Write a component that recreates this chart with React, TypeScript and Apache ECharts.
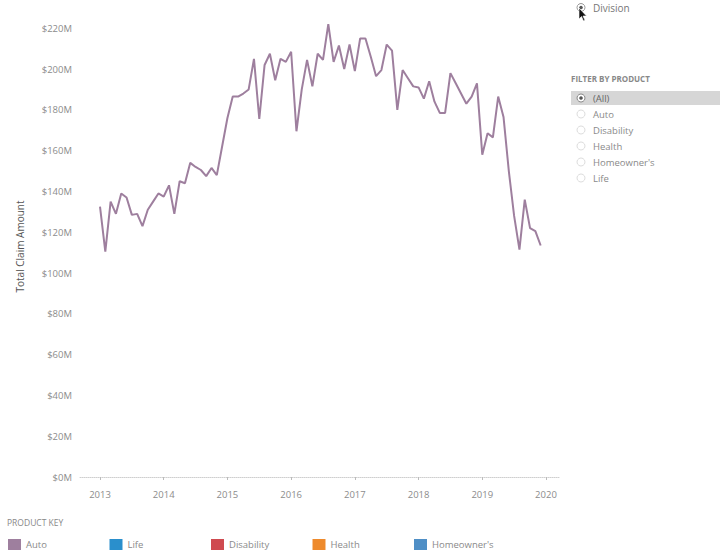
import React, { useEffect, useRef } from "react";
import * as echarts from "echarts";

// Monthly total claim amount ($M), Jan..Dec per year
const claims2013 = [132.5, 110.5, 135, 129, 139, 137, 128.5, 129, 123, 131, 135, 139];
const claims2014 = [137.5, 143, 129, 145, 144, 154, 152, 150.5, 147.5, 151.5, 148, 162];
const claims2015 = [176, 186.5, 186.5, 188, 190, 205, 175.5, 202, 207.5, 194.5, 205, 203.5];
const claims2016 = [208.5, 169.5, 190, 204.5, 191.5, 207.5, 204.5, 222, 203.5, 211.5, 200, 212];
const claims2017 = [199, 215, 215, 206, 196.5, 199.5, 212, 209, 180, 199.5, 195.5, 191.5];
const claims2018 = [191, 185.5, 194, 184, 178.5, 178.5, 198, 193, 188, 183, 186.5, 193];
const claims2019 = [158, 168.5, 166.5, 186.5, 176.5, 150, 128, 111.5, 136, 122, 120.5, 113.5];

const years = [2013, 2014, 2015, 2016, 2017, 2018, 2019];
const yearlyClaims = [claims2013, claims2014, claims2015, claims2016, claims2017, claims2018, claims2019];
const xTickYears = [2013, 2014, 2015, 2016, 2017, 2018, 2019, 2020];
const yTickValues = [0, 20, 40, 60, 80, 100, 120, 140, 160, 180, 200, 220];

const filterOptions = ["(All)", "Auto", "Disability", "Health", "Homeowner's", "Life"];
const productKey = ["Auto", "Life", "Disability", "Health", "Homeowner's"];
const productColors: Record<string, string> = {
  Auto: "#9e7f9e",
  Life: "#2a8fcc",
  Disability: "#cf4a50",
  Health: "#ee8a2c",
  "Homeowner's": "#4f8fc6",
};

const FONT = "'Open Sans', 'Noto Sans', sans-serif";

export default function App() {
  const ref = useRef<HTMLDivElement>(null);

  useEffect(() => {
    if (!ref.current) return;
    const chart = echarts.init(ref.current, undefined, { renderer: "svg" });

    const data: [number, number][] = [];
    years.forEach((y, yi) => {
      yearlyClaims[yi].forEach((v, m) => data.push([y + m / 12, v]));
    });

    const graphic: any[] = [];
    // Division radio + cursor
    graphic.push({ type: "circle", shape: { cx: 581, cy: 7.5, r: 4 }, style: { fill: "#fff", stroke: "#999", lineWidth: 1 } });
    graphic.push({ type: "circle", shape: { cx: 581, cy: 7.5, r: 1.8 }, style: { fill: "#555" } });
    graphic.push({
      type: "polygon",
      shape: { points: [[579, 8], [579, 19], [581.5, 16.5], [583.5, 21], [585, 20.3], [583, 16], [586.5, 16]] },
      style: { fill: "#111", stroke: "#fff", lineWidth: 0.6 },
    });
    graphic.push({ type: "text", x: 593, y: 7.5, style: { text: "Division", fill: "#777", font: `10px ${FONT}`, verticalAlign: "middle" } });

    graphic.push({ type: "text", x: 571, y: 78, style: { text: "FILTER BY PRODUCT", fill: "#888", font: `bold 8px ${FONT}`, verticalAlign: "middle" } });
    graphic.push({ type: "rect", shape: { x: 571, y: 91, width: 149, height: 14 }, style: { fill: "#d6d6d6" } });
    filterOptions.forEach((opt, i) => {
      const cy = 98 + 16 * i;
      graphic.push({ type: "circle", shape: { cx: 581, cy, r: 4 }, style: { fill: "#fff", stroke: i === 0 ? "#888" : "#ddd", lineWidth: 1 } });
      if (i === 0) graphic.push({ type: "circle", shape: { cx: 581, cy, r: 1.8 }, style: { fill: "#555" } });
      graphic.push({ type: "text", x: 593, y: cy, style: { text: opt, fill: i === 0 ? "#666" : "#8a8a8a", font: `9.5px ${FONT}`, verticalAlign: "middle" } });
    });

    graphic.push({ type: "text", x: 7, y: 522, style: { text: "PRODUCT KEY", fill: "#888", font: `8.5px ${FONT}`, verticalAlign: "middle" } });
    productKey.forEach((p, i) => {
      const x = 8 + 101.5 * i;
      graphic.push({ type: "rect", shape: { x, y: 539, width: 13, height: 11 }, style: { fill: productColors[p] } });
      graphic.push({ type: "text", x: x + 18, y: 544.5, style: { text: p, fill: "#8a8a8a", font: `9.5px ${FONT}`, verticalAlign: "middle" } });
    });

    chart.setOption({
      animation: false,
      backgroundColor: "#fff",
      textStyle: { fontFamily: FONT },
      grid: { left: 80, right: 165, top: 16, bottom: 77, containLabel: false },
      xAxis: {
        type: "value",
        min: 2012.686,
        max: 2020.22,
        splitLine: { show: false },
        axisLine: { show: true, lineStyle: { color: "#cfcfcf", type: "dotted", width: 1 } },
        axisTick: { show: true, customValues: xTickYears, length: 3, lineStyle: { color: "#bbb" } },
        axisLabel: {
          customValues: xTickYears,
          formatter: (v: number) => String(Math.round(v)),
          color: "#8c8c8c",
          fontSize: 9.5,
          margin: 12,
        },
      },
      yAxis: {
        type: "value",
        min: 0,
        max: 226,
        name: "Total Claim Amount",
        nameLocation: "middle",
        nameRotate: 90,
        nameGap: 55,
        nameTextStyle: { color: "#555", fontSize: 10 },
        axisLine: { show: false },
        axisTick: { show: false },
        splitLine: { show: false },
        axisLabel: {
          customValues: yTickValues,
          formatter: (v: number) => `$${v}M`,
          color: "#8c8c8c",
          fontSize: 9.5,
          margin: 8,
        },
      },
      series: [
        {
          type: "line",
          name: "Total Claim Amount",
          data,
          showSymbol: false,
          clip: false,
          lineStyle: { color: "#9e7f9e", width: 2 },
          itemStyle: { color: "#9e7f9e" },
        },
      ],
      graphic,
    });

    return () => chart.dispose();
  }, []);

  return (
    <div
      ref={ref}
      style={{ position: "fixed", left: 0, top: 0, width: 725, height: 554, background: "#fff" }}
    />
  );
}
